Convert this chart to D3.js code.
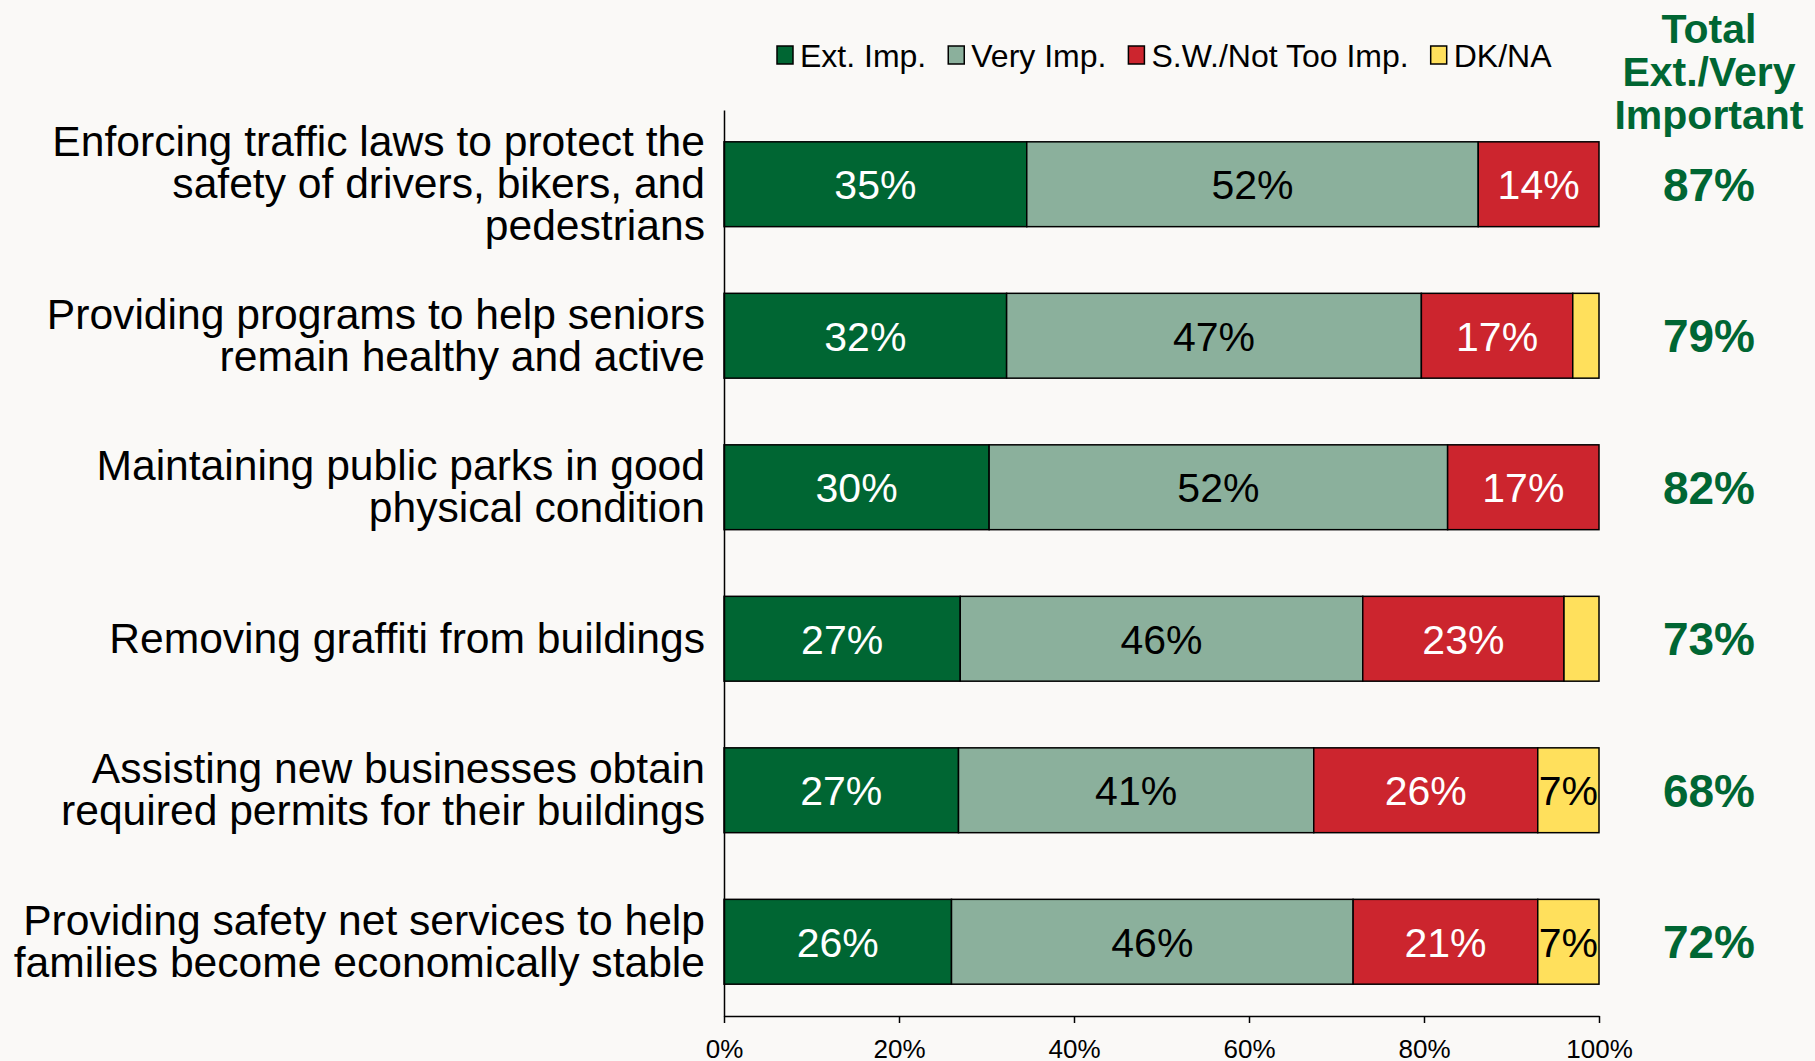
<!DOCTYPE html>
<html>
<head>
<meta charset="utf-8">
<script src="https://cdn.jsdelivr.net/npm/d3@7"></script>
<style>
body { margin: 0; background: #faf9f7; }
svg { display: block; font-family: "Liberation Sans", Arial, sans-serif; }
</style>
</head>
<body>
<div id="chart"></div>
<script>
// ---- data ----
var categories = [
	['Enforcing traffic laws to protect the', 'safety of drivers, bikers, and', 'pedestrians'],
	['Providing programs to help seniors', 'remain healthy and active'],
	['Maintaining public parks in good', 'physical condition'],
	['Removing graffiti from buildings'],
	['Assisting new businesses obtain', 'required permits for their buildings'],
	['Providing safety net services to help', 'families become economically stable']
];
var extImp   = [34.6, 32.3, 30.3, 27.0, 26.8, 26.0];
var veryImp  = [51.6, 47.4, 52.4, 46.0, 40.6, 45.9];
var swNotToo = [13.8, 17.3, 17.3, 23.0, 25.6, 21.1];
var dkNa     = [0, 3.0, 0, 4.0, 7.0, 7.0];
var totals   = ['87%', '79%', '82%', '73%', '68%', '72%'];
var seriesNames = ['Ext. Imp.', 'Very Imp.', 'S.W./Not Too Imp.', 'DK/NA'];
var totalHeader = ['Total', 'Ext./Very', 'Important'];
var xTicks = [0, 20, 40, 60, 80, 100];

// ---- styling ----
var width = 1815, height = 1061;
var colors = ['#006633', '#8bb09c', '#cc252e', '#ffe05c'];
var labelColors = ['#ffffff', '#000000', '#ffffff', '#000000'];
var greenText = '#006633';
var series = [extImp, veryImp, swNotToo, dkNa];

var rows = categories.map(function(c, i){
	return {idx: i, s0: extImp[i], s1: veryImp[i], s2: swNotToo[i], s3: dkNa[i]};
});
var keys = ['s0', 's1', 's2', 's3'];
var stacked = d3.stack().keys(keys)(rows);

var svg = d3.select('#chart').append('svg')
	.attr('width', width)
	.attr('height', height);

svg.append('rect').attr('width', width).attr('height', height).attr('fill', '#faf9f7');

var x = d3.scaleLinear().domain([0, 100]).range([724, 1599]);
var y = d3.scaleBand().domain(d3.range(categories.length))
	.range([110, 1016]).paddingInner(0.44).paddingOuter(0.21);

// bars
stacked.forEach(function(layer, k){
	var g = svg.append('g');
	g.selectAll('rect').data(layer.filter(function(d){ return d[1] - d[0] > 0; }))
		.enter().append('rect')
		.attr('x', function(d){ return x(d[0]); })
		.attr('y', function(d){ return y(d.data.idx); })
		.attr('width', function(d){ return x(d[1]) - x(d[0]); })
		.attr('height', y.bandwidth())
		.attr('fill', colors[k])
		.attr('stroke', '#000')
		.attr('stroke-width', 1.5);
	g.selectAll('text').data(layer.filter(function(d){ return series[k][d.data.idx] >= 5; }))
		.enter().append('text')
		.attr('x', function(d){ return (x(d[0]) + x(d[1])) / 2; })
		.attr('y', function(d){ return y(d.data.idx) + y.bandwidth() / 2; })
		.attr('dy', '0.36em')
		.attr('text-anchor', 'middle')
		.attr('font-size', 41)
		.attr('fill', labelColors[k])
		.text(function(d){ return Math.round(series[k][d.data.idx]) + '%'; });
});

// axes
svg.append('g')
	.attr('transform', 'translate(724,0)')
	.call(d3.axisLeft(y).tickSize(0).tickFormat(''))
	.call(function(g){ g.select('.domain').attr('stroke', '#000').attr('stroke-width', 1.5); });

var xAxis = svg.append('g')
	.attr('transform', 'translate(0,1016)')
	.call(d3.axisBottom(x).tickValues(xTicks).tickSize(7).tickSizeOuter(0)
		.tickFormat(function(d){ return d + '%'; }));
xAxis.select('.domain').attr('stroke', '#000').attr('stroke-width', 1.5);
xAxis.selectAll('.tick line').attr('stroke', '#000').attr('stroke-width', 1.5);
xAxis.selectAll('.tick text')
	.attr('y', 33).attr('dy', '0.35em')
	.attr('font-size', 26)
	.attr('font-family', '"Liberation Sans", Arial, sans-serif')
	.attr('fill', '#000');

// category labels
var lineH = 42;
categories.forEach(function(lines, i){
	var cy = y(i) + y.bandwidth() / 2 - 1;
	var t = svg.append('text')
		.attr('text-anchor', 'end')
		.attr('font-size', 42.6)
		.attr('fill', '#000');
	lines.forEach(function(line, j){
		t.append('tspan')
			.attr('x', 705)
			.attr('y', cy + (j - (lines.length - 1) / 2) * lineH)
			.attr('dy', '0.35em')
			.text(line);
	});
});

// totals column
totals.forEach(function(v, i){
	svg.append('text')
		.attr('x', 1709)
		.attr('y', y(i) + y.bandwidth() / 2)
		.attr('dy', '0.36em')
		.attr('text-anchor', 'middle')
		.attr('font-size', 46)
		.attr('font-weight', 'bold')
		.attr('fill', greenText)
		.text(v);
});
totalHeader.forEach(function(line, j){
	svg.append('text')
		.attr('x', 1709)
		.attr('y', 28 + j * 43)
		.attr('dy', '0.36em')
		.attr('text-anchor', 'middle')
		.attr('font-size', 41)
		.attr('font-weight', 'bold')
		.attr('fill', greenText)
		.text(line);
});

// legend
var lx = 777, ly = 55;
seriesNames.forEach(function(name, k){
	svg.append('rect')
		.attr('x', lx).attr('y', ly - 9)
		.attr('width', 16).attr('height', 18)
		.attr('fill', colors[k])
		.attr('stroke', '#000').attr('stroke-width', 1.5);
	var t = svg.append('text')
		.attr('x', lx + 23)
		.attr('y', ly)
		.attr('dy', '0.36em')
		.attr('font-size', 32)
		.attr('fill', '#000')
		.text(name);
	lx += 23 + t.node().getComputedTextLength() + 22;
});
</script>
</body>
</html>
